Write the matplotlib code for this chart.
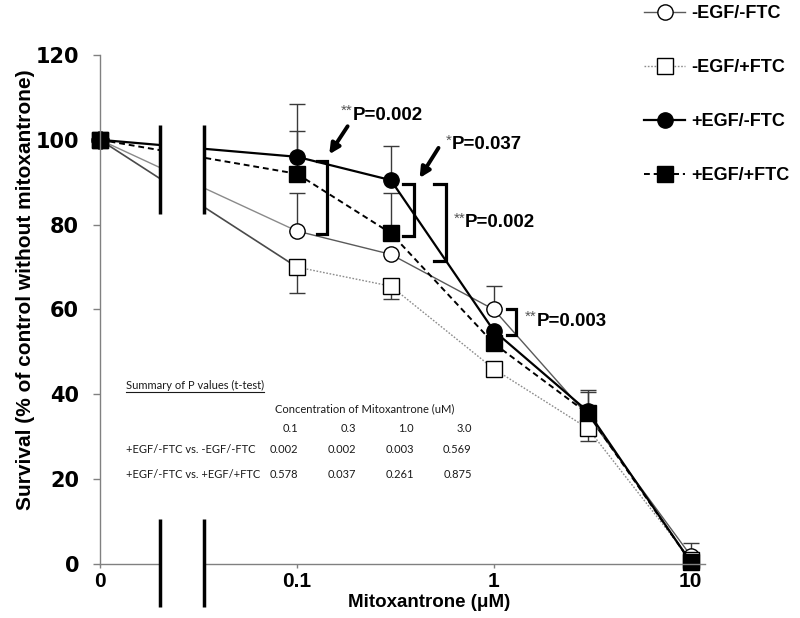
import matplotlib
matplotlib.use('Agg')
import matplotlib.pyplot as plt
from matplotlib.lines import Line2D

plt.rcParams['font.family'] = ['Liberation Sans', 'DejaVu Sans']

# ---------------- data ----------------
conc = [0, 0.1, 0.3, 1, 3, 10]
series_names = ['-EGF/-FTC', '-EGF/+FTC', '+EGF/-FTC', '+EGF/+FTC']
egfm_ftcm = [100, 78.5, 73, 60, 35, 2]
egfm_ftcp = [100, 70, 65.5, 46, 32, 1]
egfp_ftcm = [100, 96, 90.5, 55, 36, 0.5]
egfp_ftcp = [100, 92, 78, 52, 35.5, 0.5]
# error bars (one-sided, as drawn)
egfm_ftcm_err_up = [0, 9, 0, 5.5, 0, 3]
egfm_ftcp_err_down = [0, 6, 3, 1, 3, 0]
egfp_ftcm_err_up = [0, 12.5, 8, 0, 5, 0]
egfp_ftcp_err_up = [0, 10, 9.5, 0, 5, 0]

xtick_values = [0, 0.1, 1, 10]
xtick_labels = ['0', '0.1', '1', '10']
yticks = [0, 20, 40, 60, 80, 100, 120]

table_title = 'Summary of P values (t-test)'
table_header = 'Concentration of Mitoxantrone (uM)'
table_cols = ['0.1', '0.3', '1.0', '3.0']
table_rows = ['+EGF/-FTC vs. -EGF/-FTC', '+EGF/-FTC vs. +EGF/+FTC']
p_vs_egfm_ftcm = ['0.002', '0.002', '0.003', '0.569']
p_vs_egfp_ftcp = ['0.578', '0.037', '0.261', '0.875']

# ---------------- layout ----------------
ZERO_POS = 0.01           # where the "0" concentration sits on the log axis
BREAK_LO, BREAK_HI = 0.0202, 0.0337

def xmap(v):
    return ZERO_POS if v == 0 else v

xpos = [xmap(c) for c in conc]

fig = plt.figure(figsize=(8, 6.18), dpi=100)
ax = fig.add_axes([0.125, 0.0874, 0.756, 0.8236])
ax.set_xscale('log')
ax.set_xlim(ZERO_POS, 11.8)
ax.set_ylim(0, 120)

MS = 11
styles = [
    dict(color='#5a5a5a', lw=1.0, ls='-', marker='o', mfc='white', mec='black', mew=1.0, ms=MS),
    dict(color='#8c8c8c', lw=1.0, ls=(0, (1.2, 1.2)), marker='s', mfc='white', mec='black', mew=1.0, ms=MS),
    dict(color='black', lw=1.6, ls='-', marker='o', mfc='black', mec='black', mew=1.0, ms=MS),
    dict(color='black', lw=1.4, ls=(0, (3, 2)), marker='s', mfc='black', mec='black', mew=1.0, ms=MS),
]
first_seg = [
    dict(color='#8a8a8a', lw=1.0, ls='-'),
    dict(color='#4a4a4a', lw=1.2, ls='-'),
    dict(color='black', lw=1.6, ls='-'),
    dict(color='black', lw=1.4, ls=(0, (3, 2))),
]
values = [egfm_ftcm, egfm_ftcp, egfp_ftcm, egfp_ftcp]
errs = [
    ([0] * 6, egfm_ftcm_err_up),
    (egfm_ftcp_err_down, [0] * 6),
    ([0] * 6, egfp_ftcm_err_up),
    ([0] * 6, egfp_ftcp_err_up),
]

# error bars first (below markers)
for (lo, up), vals in zip(errs, values):
    idx = [i for i in range(len(conc)) if lo[i] > 0 or up[i] > 0]
    if not idx:
        continue
    ax.errorbar([xpos[i] for i in idx], [vals[i] for i in idx],
                yerr=[[lo[i] for i in idx], [up[i] for i in idx]],
                fmt='none', ecolor='#3a3a3a', elinewidth=1.0, capsize=6,
                capthick=1.0, zorder=1.5, clip_on=False)

handles = []
for name, vals, st, fs in zip(series_names, values, styles, first_seg):
    ax.plot(xpos[:2], vals[:2], zorder=2, clip_on=False, solid_capstyle='butt', **fs)
    h, = ax.plot(xpos[1:], vals[1:], zorder=2, clip_on=False, label=name, **st)
    ax.plot(xpos[:1], vals[:1], ls='none', marker=st['marker'], mfc=st['mfc'],
            mec=st['mec'], ms=st['ms'] + 1, zorder=2.2, clip_on=False)
    handles.append(h)

# axis break
ax.axvspan(BREAK_LO, BREAK_HI, ymin=-0.01, ymax=1.0, color='white', zorder=3, clip_on=False, lw=0)
for bx in (BREAK_LO, BREAK_HI):
    ax.plot([bx, bx], [82.5, 103.5], color='black', lw=2.5, zorder=4, solid_capstyle='butt')
    ax.plot([bx, bx], [-10.2, 10.6], color='black', lw=2.5, zorder=4, clip_on=False,
            solid_capstyle='butt')

# axes styling
for s in ('top', 'right'):
    ax.spines[s].set_visible(False)
for s in ('left', 'bottom'):
    ax.spines[s].set_color('#808080')
    ax.spines[s].set_linewidth(1.0)
ax.set_yticks(yticks)
ax.set_yticklabels([str(t) for t in yticks], fontsize=15, fontweight='bold',
                   family=['DejaVu Sans'])
ax.set_xticks([xmap(v) for v in xtick_values])
ax.set_xticklabels(xtick_labels, fontsize=15, fontweight='bold')
ax.xaxis.set_minor_locator(matplotlib.ticker.NullLocator())
ax.tick_params(axis='y', length=5, color='#808080', width=1, pad=10)
ax.tick_params(axis='x', length=3, color='#808080', width=1, pad=3)
ax.set_xlabel('Mitoxantrone (\u03bcM)', fontsize=13.5, fontweight='bold')
ax.xaxis.set_label_coords(0.545, -0.058)
ax.set_ylabel('Survival (% of control without mitoxantrone)', fontsize=15,
              fontweight='bold')
ax.yaxis.set_label_coords(-0.108, 0.538)

# significance annotations
def bracket(x_tick, x_bar, y_top, y_bot):
    ax.plot([x_tick, x_bar, x_bar, x_tick], [y_top, y_top, y_bot, y_bot],
            color='black', lw=2.3, zorder=5, solid_joinstyle='miter')

def ptext(x, y, stars, label):
    ax.annotate(stars, (x, y), xytext=(0, 3), textcoords='offset points',
                ha='right', va='center', fontsize=11, color='#555555', zorder=6)
    ax.text(x, y, label, ha='left', va='center', fontsize=13.5,
            fontweight='bold', zorder=6)

def arrow(x0, y0, x1, y1):
    ax.annotate('', xy=(x1, y1), xytext=(x0, y0),
                arrowprops=dict(arrowstyle='-|>', color='black', lw=2.8,
                                mutation_scale=15, shrinkA=0, shrinkB=0), zorder=6)

bracket(0.127, 0.142, 95.1, 77.7)
arrow(0.181, 103.2, 0.146, 96.6)
ptext(0.192, 105.8, '**', 'P=0.002')

bracket(0.344, 0.394, 89.7, 77.3)
arrow(0.524, 98.1, 0.42, 91.0)
ptext(0.612, 98.9, '*', 'P=0.037')

bracket(0.50, 0.57, 89.6, 71.4)
ptext(0.716, 80.4, '**', 'P=0.002')

bracket(1.17, 1.29, 60.1, 54.0)
ptext(1.65, 57.2, '**', 'P=0.003')

# summary table
tfont = dict(family=['Lato', 'DejaVu Sans'], fontsize=8.0, color='#1a1a1a')
lab_x = 0.0136
title_txt = ax.text(lab_x, 42, table_title, ha='left', va='center', **tfont)
ax.text(0.077, 36.6, table_header, ha='left', va='center', **tfont)
col_x = [0.102, 0.200, 0.393, 0.772]
for cx, c in zip(col_x, table_cols):
    ax.text(cx, 32.0, c, ha='right', va='center', **tfont)
for ry, rlab, pv in zip([26.9, 21.0], table_rows, [p_vs_egfm_ftcm, p_vs_egfp_ftcp]):
    ax.text(lab_x, ry, rlab, ha='left', va='center', **tfont)
    for cx, p in zip(col_x, pv):
        ax.text(cx, ry, p, ha='right', va='center', **tfont)

# underline for table title
fig.canvas.draw()
bb = title_txt.get_window_extent()
inv = fig.transFigure.inverted()
(x0f, y0f), (x1f, _) = inv.transform([(bb.x0, bb.y0 - 1), (bb.x1, bb.y0 - 1)])
fig.add_artist(Line2D([x0f, x1f], [y0f, y0f], color='#1a1a1a', lw=0.8))

# legend
fig.legend(handles=handles, labels=series_names, loc='upper left',
           bbox_to_anchor=(0.789, 1.012), frameon=False, numpoints=1,
           handlelength=2.3, handletextpad=0.3, labelspacing=2.05,
           borderpad=0.2, prop=dict(size=13, weight='bold'))

fig.savefig('out.png', dpi=100)
